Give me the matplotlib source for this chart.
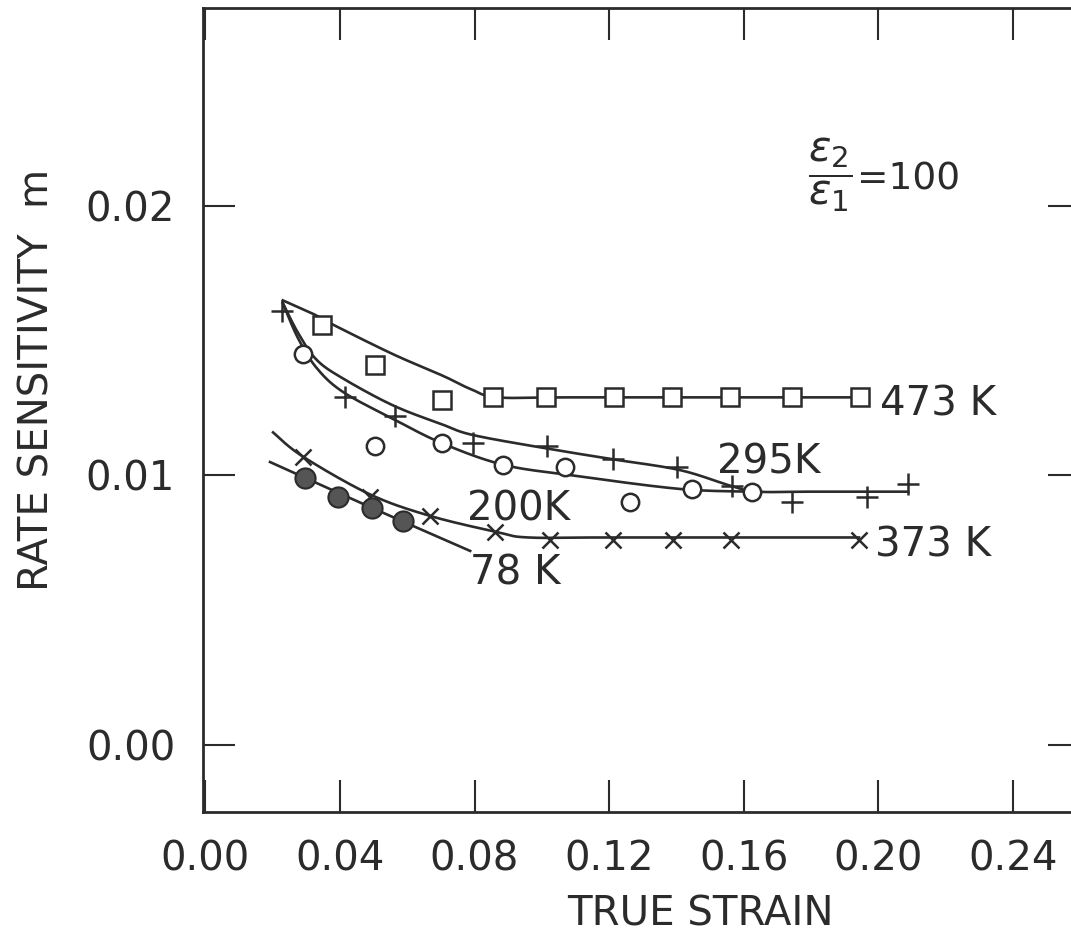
import matplotlib
matplotlib.use('Agg')
import matplotlib.pyplot as plt
import numpy as np

INK = '#2b2b2b'

# measured points, strain vs rate sensitivity m
k473_x = [0.0346, 0.0504, 0.0703, 0.0855, 0.1013, 0.1215, 0.1387, 0.1560, 0.1744, 0.1946]
k473_y = [0.0156, 0.0141, 0.0128, 0.0129, 0.0129, 0.0129, 0.0129, 0.0129, 0.0129, 0.0129]

k295_x = [0.0228, 0.0415, 0.0564, 0.0796, 0.1016, 0.1212, 0.1402, 0.1566, 0.1744, 0.1967, 0.2089]
k295_y = [0.0161, 0.0129, 0.0122, 0.0112, 0.0111, 0.0106, 0.0103, 0.0096, 0.0090, 0.0092, 0.0097]

k200_x = [0.0290, 0.0504, 0.0703, 0.0885, 0.1069, 0.1262, 0.1447, 0.1625]
k200_y = [0.0145, 0.0111, 0.0112, 0.0104, 0.0103, 0.0090, 0.0095, 0.0094]

k373_x = [0.0290, 0.0489, 0.0668, 0.0861, 0.1024, 0.1212, 0.1390, 0.1563, 0.1943]
k373_y = [0.0107, 0.0092, 0.0085, 0.0079, 0.0076, 0.0076, 0.0076, 0.0076, 0.0076]

k78_x = [0.0296, 0.0394, 0.0495, 0.0587]
k78_y = [0.0099, 0.0092, 0.0088, 0.0083]

# hand-fitted trend lines
fit473_x = [0.0230, 0.0320, 0.0379, 0.0558, 0.0706, 0.0790, 0.0870, 0.1100, 0.1946]
fit473_y = [0.0165, 0.0160, 0.0156, 0.0145, 0.0137, 0.0132, 0.0129, 0.0129, 0.0129]

fit295_x = [0.0230, 0.0275, 0.0330, 0.0409, 0.0558, 0.0703, 0.0796, 0.1016, 0.1212, 0.1411, 0.1566, 0.1640, 0.1800, 0.2089]
fit295_y = [0.0164, 0.0153, 0.0143, 0.0136, 0.0126, 0.0119, 0.0115, 0.0110, 0.0106, 0.0102, 0.0096, 0.0094, 0.0094, 0.0094]

fit200_x = [0.0230, 0.0275, 0.0330, 0.0409, 0.0558, 0.0703, 0.0885, 0.1093, 0.1411, 0.1625]
fit200_y = [0.0164, 0.0151, 0.0140, 0.0131, 0.0121, 0.0112, 0.0104, 0.0100, 0.0095, 0.0094]

fit373_x = [0.0201, 0.0290, 0.0489, 0.0668, 0.0867, 0.0960, 0.1200, 0.1943]
fit373_y = [0.0116, 0.0107, 0.0093, 0.0085, 0.0079, 0.0077, 0.0077, 0.0077]

fit78_x = [0.0192, 0.0495, 0.0787]
fit78_y = [0.0105, 0.0088, 0.0072]

xticks = [0.00, 0.04, 0.08, 0.12, 0.16, 0.20, 0.24]
yticks = [0.00, 0.01, 0.02]


def smooth_curve(xs, ys, n=24):
    # Catmull-Rom through the fitted points
    pts = np.column_stack([xs, ys])
    p = np.vstack([pts[0], pts, pts[-1]])
    t = np.linspace(0, 1, n, endpoint=False)[:, None]
    out = []
    for i in range(1, len(p) - 2):
        p0, p1, p2, p3 = p[i - 1], p[i], p[i + 1], p[i + 2]
        seg = 0.5 * (2 * p1 + (-p0 + p2) * t
                     + (2 * p0 - 5 * p1 + 4 * p2 - p3) * t ** 2
                     + (-p0 + 3 * p1 - 3 * p2 + p3) * t ** 3)
        out.append(seg)
    out.append(pts[-1:])
    out = np.vstack(out)
    return out[:, 0], out[:, 1]


plt.rcParams['font.family'] = 'DejaVu Sans'
plt.rcParams['mathtext.fontset'] = 'dejavusans'

fig = plt.figure(figsize=(10.71, 9.44), dpi=100)
ax = fig.add_axes([0.1895, 0.1398, 0.8189, 0.8517])

line_kw = dict(color=INK, linewidth=1.9, zorder=2)
for fx, fy in [(fit473_x, fit473_y), (fit295_x, fit295_y), (fit200_x, fit200_y),
               (fit373_x, fit373_y), (fit78_x, fit78_y)]:
    sx, sy = smooth_curve(fx, fy)
    ax.plot(sx, sy, **line_kw)

ax.plot(k473_x, k473_y, linestyle='none', marker='s', markersize=13,
        markerfacecolor='white', markeredgecolor=INK, markeredgewidth=1.8, zorder=3)
ax.plot(k295_x, k295_y, linestyle='none', marker='+', markersize=16,
        markeredgecolor=INK, markeredgewidth=1.8, zorder=3)
ax.plot(k200_x, k200_y, linestyle='none', marker='o', markersize=12.5,
        markerfacecolor='white', markeredgecolor=INK, markeredgewidth=1.8, zorder=3)
ax.plot(k373_x, k373_y, linestyle='none', marker='x', markersize=11,
        markeredgecolor=INK, markeredgewidth=1.8, zorder=3)
ax.plot(k78_x, k78_y, linestyle='none', marker='o', markersize=14.5,
        markerfacecolor='#555555', markeredgecolor=INK, markeredgewidth=1.5, zorder=3)

txt = dict(fontsize=29, color=INK, ha='left', va='center')
ax.text(0.2006, 0.01262, '473 K', **txt)
ax.text(0.1521, 0.01050, '295K', **txt)
ax.text(0.0778, 0.00872, '200K', **txt)
ax.text(0.1991, 0.00742, '373 K', **txt)
ax.text(0.0787, 0.00638, '78 K', **txt)

# strain-rate ratio note
ax.text(0.1792, 0.02115, r'$\dfrac{\epsilon_2}{\epsilon_1}$', fontsize=30,
        color=INK, ha='left', va='center')
ax.text(0.1938, 0.02100, '=100', fontsize=27, color=INK, ha='left', va='center')

ax.set_xlim(-0.00074, 0.26)
ax.set_ylim(-0.00249, 0.02735)
ax.set_xticks(xticks)
ax.set_xticklabels(['%.2f' % v for v in xticks])
ax.set_yticks(yticks)
ax.set_yticklabels(['%.2f' % v for v in yticks])
ax.tick_params(direction='in', length=23, width=1.5, color=INK, labelcolor=INK,
               labelsize=29, pad=20, top=True, right=True)

for sp in ax.spines.values():
    sp.set_linewidth(2.0)
    sp.set_color(INK)

ax.set_xlabel('TRUE STRAIN', fontsize=29, color=INK)
ax.xaxis.set_label_coords(0.567, -0.128)
ax.xaxis.label.set_va('center')
ax.set_ylabel('RATE SENSITIVITY  m', fontsize=29, color=INK)
ax.yaxis.set_label_coords(-0.189, 0.537)
ax.yaxis.label.set_va('center')

fig.savefig('out.png', dpi=100)
